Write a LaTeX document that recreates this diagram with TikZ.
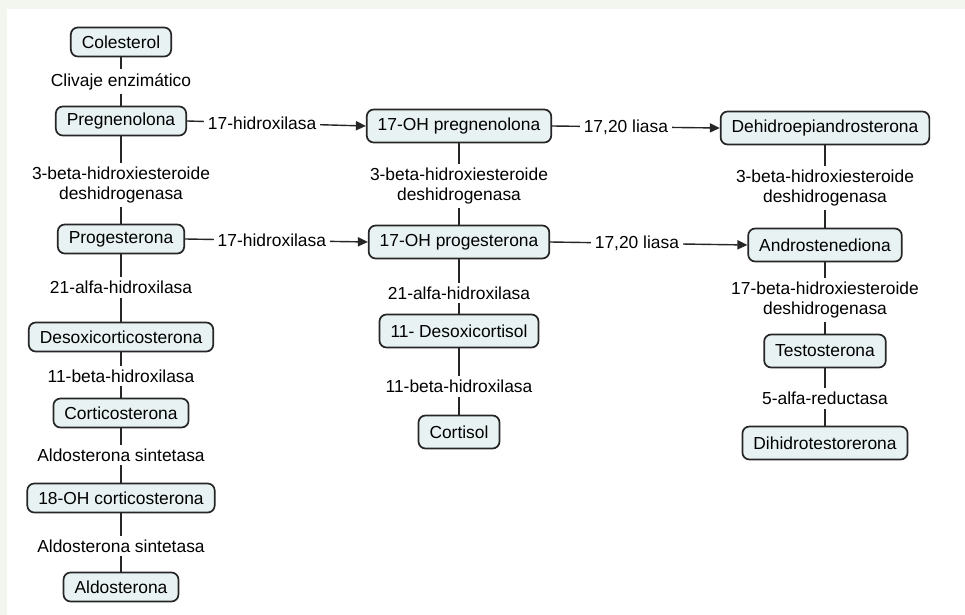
\documentclass[tikz,border=0pt]{standalone}
\usepackage{fontspec}
\setmainfont{Liberation Sans}
\usepackage{xcolor}
\usetikzlibrary{arrows.meta}
\definecolor{boxfill}{HTML}{E8F2F2}
\definecolor{boxline}{HTML}{262626}
\definecolor{pageband}{HTML}{F3F6EF}
\tikzset{
  steroidnode/.style={
    rectangle,
    draw=boxline,
    fill=boxfill,
    rounded corners=3.5pt,
    line width=0.85pt,
    minimum height=16.5pt,
    inner xsep=5.5pt,
    inner ysep=2pt,
    font=\fontsize{8.7}{10}\selectfont
  },
  pathline/.style={
    draw=boxline,
    line width=0.7pt
  },
  patharrow/.style={
    pathline,
    -{Triangle[length=5pt, width=4.6pt]}
  },
  enzymelabel/.style={
    font=\fontsize{8.7}{10}\selectfont,
    fill=white,
    align=center,
    inner sep=2pt
  }
}

\begin{document}
\begin{tikzpicture}[x=0.5pt, y=-0.5pt]
  % page and light band
  \fill[pageband] (0,0) rectangle (965,615);
  \fill[white] (7,9) rectangle (965,615);
  \useasboundingbox (0,0) rectangle (965,615);

  % mineralocorticoid column
  \node[steroidnode, minimum height=14.5pt] (colesterol) at (121,42) {Colesterol};
  \node[steroidnode, minimum height=14.5pt] (pregnenolona) at (121,121) {Pregnenolona};
  \node[steroidnode, minimum height=14.5pt] (progesterona) at (121,239) {Progesterona};
  \node[steroidnode, minimum height=14.5pt] (desoxicorticost) at (121,337) {Desoxicorticosterona};
  \node[steroidnode, minimum height=14.5pt] (corticosterona) at (121,413) {Corticosterona};
  \node[steroidnode, minimum height=14.5pt] (ohcorticost) at (121,498) {18-OH corticosterona};
  \node[steroidnode, minimum height=14.5pt] (aldosterona) at (121,587) {Aldosterona};

  % glucocorticoid column
  \node[steroidnode] (ohpreg) at (459,126) {17-OH pregnenolona};
  \node[steroidnode] (ohprog) at (459,242) {17-OH progesterona};
  \node[steroidnode] (desoxicortisol) at (459,331) {11- Desoxicortisol};
  \node[steroidnode] (cortisol) at (459,432) {Cortisol};

  % androgen column
  \node[steroidnode] (dhea) at (825,128) {Dehidroepiandrosterona};
  \node[steroidnode] (androstenediona) at (825,245) {Androstenediona};
  \node[steroidnode] (testosterona) at (825,351) {Testosterona};
  \node[steroidnode] (dht) at (825,443) {Dihidrotestorerona};

  \draw[pathline] (colesterol.south) -- node[enzymelabel, pos=0.5] {Clivaje enzimático} (pregnenolona.north);
  \draw[pathline] (pregnenolona.south) -- node[enzymelabel, pos=0.56] {3-beta-hidroxiesteroide\\deshidrogenasa} (progesterona.north);
  \draw[pathline] (progesterona.south) -- node[enzymelabel, pos=0.49] {21-alfa-hidroxilasa} (desoxicorticost.north);
  \draw[pathline] (desoxicorticost.south) -- node[enzymelabel, pos=0.52] {11-beta-hidroxilasa} (corticosterona.north);
  \draw[pathline] (corticosterona.south) -- node[enzymelabel, pos=0.49] {Aldosterona sintetasa} (ohcorticost.north);
  \draw[pathline] (ohcorticost.south) -- node[enzymelabel, pos=0.56] {Aldosterona sintetasa} (aldosterona.north);

  \draw[pathline] (ohpreg.south) -- node[enzymelabel, pos=0.52] {3-beta-hidroxiesteroide\\deshidrogenasa} (ohprog.north);
  \draw[pathline] (ohprog.south) -- node[enzymelabel, pos=0.62] {21-alfa-hidroxilasa} (desoxicortisol.north);
  \draw[pathline] (desoxicortisol.south) -- node[enzymelabel, pos=0.57] {11-beta-hidroxilasa} (cortisol.north);

  \draw[pathline] (dhea.south) -- node[enzymelabel, pos=0.52] {3-beta-hidroxiesteroide\\deshidrogenasa} (androstenediona.north);
  \draw[pathline] (androstenediona.south) -- node[enzymelabel, pos=0.53] {17-beta-hidroxiesteroide\\deshidrogenasa} (testosterona.north);
  \draw[pathline] (testosterona.south) -- node[enzymelabel, pos=0.52] {5-alfa-reductasa} (dht.north);

  \draw[patharrow] (pregnenolona.east) -- node[enzymelabel, pos=0.42] {17-hidroxilasa} (ohpreg.west);
  \draw[patharrow] (progesterona.east) -- node[enzymelabel, pos=0.475] {17-hidroxilasa} (ohprog.west);
  \draw[patharrow] (ohpreg.east) -- node[enzymelabel, pos=0.44] {17,20 liasa} (dhea.west);
  \draw[patharrow] (ohprog.east) -- node[enzymelabel, pos=0.44] {17,20 liasa} (androstenediona.west);
\end{tikzpicture}
\end{document}
